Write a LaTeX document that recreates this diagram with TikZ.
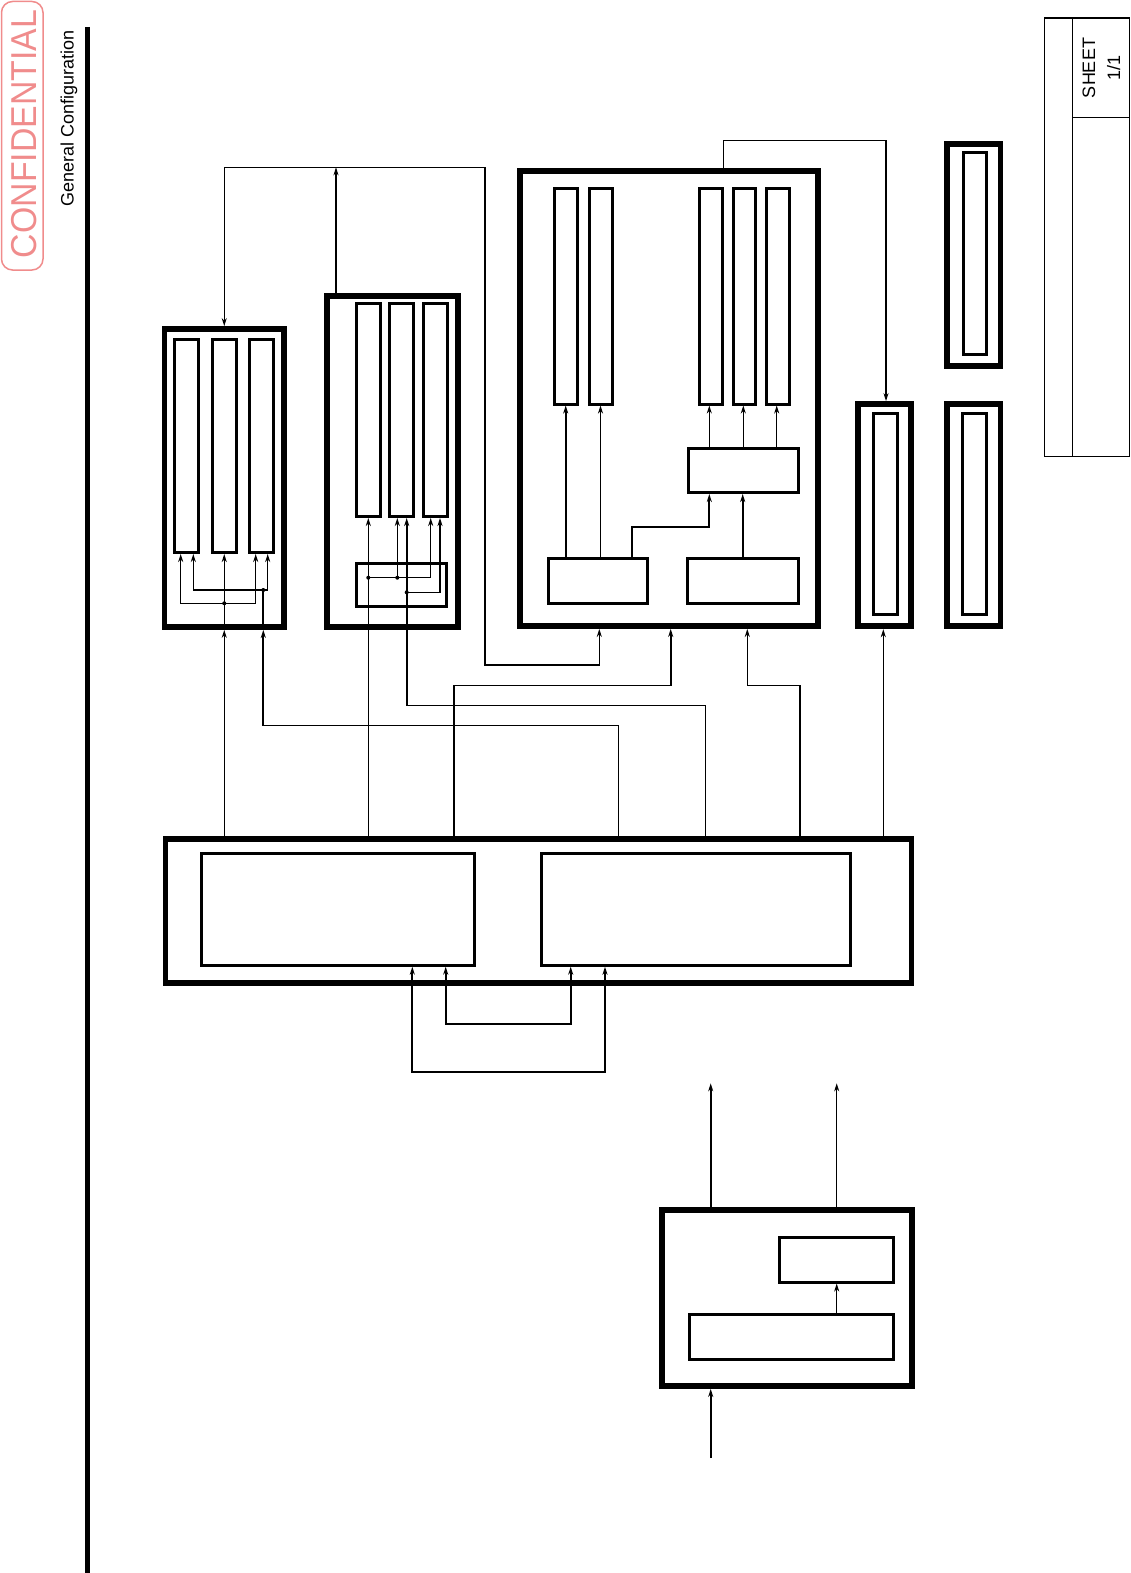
\documentclass[tikz,border=0pt]{standalone}
\usepackage{fontspec}
\setmainfont{Liberation Sans}
\usepackage{graphicx}
\usetikzlibrary{arrows.meta}
\definecolor{stamp}{RGB}{240,140,140}
\newcommand\bx[6]{\node[#1,minimum width={#5-#3},minimum height={#6-#4}] (#2) at ({(#3+#5)/2},{(#4+#6)/2}) {};}
\begin{document}
\begin{tikzpicture}[x=1pt,y=-1pt,
  outerbox/.style={draw,inner sep=0pt,line width=5.8pt},
  slotbox/.style={draw,inner sep=0pt,line width=3pt},
  wire/.style={line width=1.2pt},
  wireB/.style={line width=1.8pt},
  frame/.style={line width=1.2pt},
  arr/.style={-{Stealth[length=8pt,width=5pt,inset=2.5pt]}},
  darr/.style={{Stealth[length=8pt,width=5pt,inset=2.5pt]}-{Stealth[length=8pt,width=5pt,inset=2.5pt]}},
  dot/.style={circle,fill,inner sep=0pt,minimum size=4pt},
  lbl/.style={inner sep=0pt,rotate=90,anchor=base}]
\useasboundingbox (0,0) rectangle (1130,1573);

% stamp and title
\draw[stamp,line width=1.5pt,rounded corners=11pt] (1.5,1.5) rectangle (43,270);
\node[lbl,text=stamp,font=\fontsize{36}{36}\selectfont] (conf) at (36,134) {\scalebox{0.94}[1]{CONFIDENTIAL}};
\node[lbl,font=\fontsize{18}{20}\selectfont] (title) at (73.5,118.5) {General Configuration};
\draw[line width=5pt] (87.5,27) -- (87.5,1573);

% sheet frame
\draw[frame] (1044.6,18) rectangle (1129.4,456.6);
\draw[frame] (1072.8,18) -- (1072.8,456.6);
\draw[frame] (1072.8,117.5) -- (1129.4,117.5);
\node[lbl,font=\fontsize{18}{18}\selectfont] (sheet) at (1095,68) {SHEET};
\node[lbl,font=\fontsize{18}{18}\selectfont] (sheetno) at (1120,68) {1/1};

% box 1
\bx{outerbox}{b1}{164.5}{329}{284}{627}
\bx{slotbox}{s11}{174}{339.5}{198}{552.5}
\bx{slotbox}{s12}{212.5}{339.5}{236}{552.5}
\bx{slotbox}{s13}{249}{339.5}{273.5}{552.5}
% box 2
\bx{outerbox}{b2}{327}{296}{458}{627}
\bx{slotbox}{s21}{356.5}{303}{380}{516.5}
\bx{slotbox}{s22}{389}{303}{413.5}{516.5}
\bx{slotbox}{s23}{423}{303}{447.5}{516.5}
\bx{slotbox}{sb2}{356.5}{563.2}{446.8}{606.2}
% box 3
\bx{outerbox}{b3}{520}{171}{818}{626}
\bx{slotbox}{sa}{554}{189}{577}{404}
\bx{slotbox}{sb}{589}{189}{612}{404}
\bx{slotbox}{sc}{699}{189}{722}{404}
\bx{slotbox}{sd}{733}{189}{755.5}{404}
\bx{slotbox}{se}{766.5}{189}{789.5}{404}
\bx{slotbox}{mux}{688.7}{448}{798}{492.5}
\bx{slotbox}{lowL}{548.7}{558.7}{647}{603.5}
\bx{slotbox}{lowR}{687.5}{558.7}{798}{603.5}
% box 4,5,6
\bx{outerbox}{b4}{858}{404}{911}{626.3}
\bx{slotbox}{s4}{873.5}{413}{897.5}{614}
\bx{outerbox}{b5}{947}{404}{1000.5}{626.3}
\bx{slotbox}{s5}{962.5}{413}{986.5}{614}
\bx{outerbox}{b6}{947}{144}{1000.5}{366}
\bx{slotbox}{s6}{963}{152.5}{986.5}{354.5}
% main box
\bx{outerbox}{mb}{165.5}{839}{911.5}{983}
\bx{slotbox}{ml}{201}{853.5}{474}{965.2}
\bx{slotbox}{mr}{541.5}{853.5}{850.5}{965.2}
% box 7
\bx{outerbox}{b7}{662}{1209.7}{912}{1386}
\bx{slotbox}{u7}{779.7}{1237.5}{893.7}{1282}
\bx{slotbox}{l7}{689.7}{1314.7}{893.7}{1359}

% top routes
\draw[wire,darr] (224.25,0 |- b1.north) -- (224.25,167.3) -| (485,665) -| (599.3,0 |- b3.south);
\draw[wire,arr] (336,0 |- b2.north) -- (336,167.3);
\draw[wire,arr] (723.3,0 |- b3.north) |- (886,140.7) -- (886,0 |- b4.north);

% routes from main box
\draw[wire,arr] (224.25,0 |- mb.north) -- (224.25,0 |- b1.south);
\draw[wireB,arr] (618.5,0 |- mb.north) |- (263.3,725.5) -- (263.3,0 |- b1.south);
\draw[wire,arr] (368.3,0 |- mb.north) -- (368.3,0 |- s21.south);
\draw[wireB,arr] (705.5,0 |- mb.north) |- (406.7,705.5) -- (406.7,0 |- s22.south);
\draw[wireB,arr] (453.6,0 |- mb.north) |- (670.7,685.4) -- (670.7,0 |- b3.south);
\draw[wire,arr] (800,0 |- mb.north) |- (747.3,685.4) -- (747.3,0 |- b3.south);
\draw[wire,arr] (883.3,0 |- mb.north) -- (883.3,0 |- b4.south);

% inside box 1
\node[dot] (d1) at (224.25,603.3) {};
\node[dot] (d2) at (263.3,590) {};
\draw[wire,arr] (224.25,0 |- b1.south) -- (224.25,0 |- s12.south);
\draw[wire,arr] (d1.center) -| (180.7,0 |- s11.south);
\draw[wire,arr] (d1.center) -| (255.7,0 |- s13.south);
\draw[wireB] (263.3,0 |- b1.south) -- (d2.center);
\draw[wire,arr] (d2.center) -| (193.3,0 |- s11.south);
\draw[wire,arr] (d2.center) -| (267.7,0 |- s13.south);

% inside box 2
\node[dot] (d3) at (368.3,577.7) {};
\node[dot] (d4) at (397.3,577.7) {};
\node[dot] (d5) at (406.7,592.3) {};
\draw[wire] (d3.center) -- (d4.center);
\draw[wire,arr] (d4.center) -- (397.3,0 |- s22.south);
\draw[wire,arr] (d4.center) -| (430.7,0 |- s23.south);
\draw[wire,arr] (d5.center) -| (440,0 |- s23.south);

% inside box 3
\draw[wireB,arr] (565.7,0 |- lowL.north) -- (565.7,0 |- sa.south);
\draw[wire,arr] (600.5,0 |- lowL.north) -- (600.5,0 |- sb.south);
\draw[wireB,arr] (631.7,0 |- lowL.north) |- (709.3,526.7) -- (709.3,0 |- mux.south);
\draw[wireB,arr] (742.7,0 |- lowR.north) -- (742.7,0 |- mux.south);
\draw[wire,arr] (709.3,0 |- mux.north) -- (709.3,0 |- sc.south);
\draw[wire,arr] (743.3,0 |- mux.north) -- (743.3,0 |- sd.south);
\draw[wire,arr] (776.7,0 |- mux.north) -- (776.7,0 |- se.south);

% loops under main box
\draw[wireB,darr] (412.3,0 |- ml.south) |- (605,1071.7) -- (605,0 |- mr.south);
\draw[wireB,darr] (445.7,0 |- ml.south) |- (570.7,1024) -- (570.7,0 |- mr.south);

% box 7
\coordinate (in7) at (710.7,1458);
\coordinate (o1) at (710.7,1083.3);
\coordinate (o2) at (836.7,1083.3);
\draw[line width=2.2pt,arr] (in7) -- (in7 |- b7.south);
\draw[line width=2.4pt,arr] (o1 |- b7.north) -- (o1);
\draw[wire,arr] (o2 |- b7.north) -- (o2);
\draw[wire,arr] (o2 |- l7.north) -- (o2 |- u7.south);
\end{tikzpicture}
\end{document}
